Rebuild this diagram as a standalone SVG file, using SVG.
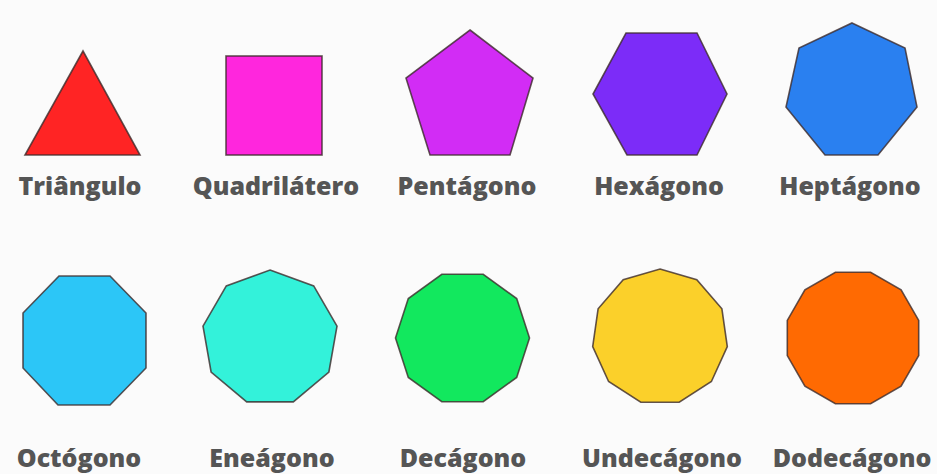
<svg xmlns="http://www.w3.org/2000/svg" width="937" height="474" viewBox="0 0 937 474">
<style>
.s{stroke:#3c2a2a;stroke-opacity:0.8;stroke-width:1.6;stroke-linejoin:miter}
.t{font-family:"Open Sans","DejaVu Sans",sans-serif;font-weight:800;font-size:25px;fill:#555555;text-anchor:middle}
</style>
<rect width="937" height="474" fill="#fbfbfb"/>
<g id="triangulo">
<polygon class="s" fill="#ff2424" points="83,51 25,155 140,155"/>
<text class="t" x="80" y="195">Triângulo</text>
</g>
<g id="quadrilatero">
<rect class="s" fill="#ff26dd" x="226" y="56" width="96" height="99"/>
<text class="t" x="276" y="195">Quadrilátero</text>
</g>
<g id="pentagono">
<polygon class="s" fill="#d22cf5" points="470,30 533,78 510,155 430,155 406,78"/>
<text class="t" x="467" y="195">Pentágono</text>
</g>
<g id="hexagono">
<polygon class="s" fill="#7c2cf8" points="626,33 697,33 727,94 697,155 627,155 593,94"/>
<text class="t" x="659" y="195">Hexágono</text>
</g>
<g id="heptagono">
<polygon class="s" fill="#2a80f0" points="852,23 905,48 917,107 878,155 825,155 786,107 799,48"/>
<text class="t" x="850" y="195">Heptágono</text>
</g>
<g id="octogono">
<polygon class="s" fill="#2cc6f7" points="59,276 110,276 146,313 146,368 110,405 58,405 23,368 23,313"/>
<text class="t" x="79" y="467">Octógono</text>
</g>
<g id="eneagono">
<polygon class="s" fill="#33f2da" points="270,270 313.7,285.9 337,326.2 328.9,372 293.3,401.9 246.7,401.9 211.1,372 203,326.2 226.3,285.9"/>
<text class="t" x="272" y="467">Eneágono</text>
</g>
<g id="decagono">
<polygon class="s" fill="#12e85e" points="529.5,338 516.7,377.4 483.2,401.7 441.8,401.7 408.3,377.4 395.5,338 408.3,298.6 441.8,274.3 483.2,274.3 516.7,298.6"/>
<text class="t" x="463" y="467">Decágono</text>
</g>
<g id="undecagono">
<polygon class="s" fill="#fbd02a" points="660,269 696.8,279.8 721.9,308.8 727.3,346.7 711.4,381.5 679.2,402.2 640.8,402.2 608.6,381.5 592.7,346.7 598.1,308.8 623.2,279.8"/>
<text class="t" x="662" y="467">Undecágono</text>
</g>
<g id="dodecagono">
<polygon class="s" fill="#ff6a02" points="918.7,355.6 901.1,386.1 870.6,403.7 835.4,403.7 804.9,386.1 787.3,355.6 787.3,320.4 804.9,289.9 835.4,272.3 870.6,272.3 901.1,289.9 918.7,320.4"/>
<text class="t" x="852" y="467">Dodecágono</text>
</g>
<g id="connectors"/>
</svg>
